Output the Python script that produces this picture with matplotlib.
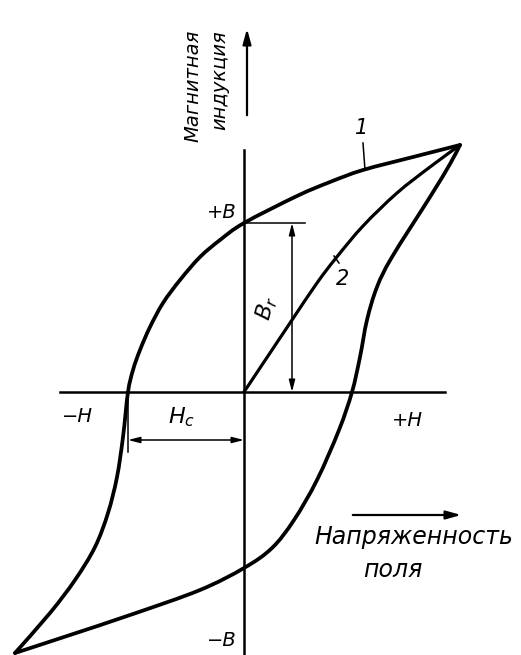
import matplotlib
matplotlib.use("Agg")
import matplotlib.pyplot as plt
from matplotlib.path import Path
from matplotlib.patches import PathPatch
import numpy as np

plt.rcParams['font.family'] = ['DejaVu Sans']
plt.rcParams['mathtext.fontset'] = 'dejavusans'

# нисходящая ветвь петли (кривая 1): H, B
desc_H = [2.16, 1.69, 1.19, 0.86, 0.53, 0.00, -0.24, -0.44, -0.64, -0.81, -0.94, -1.04,
          -1.11, -1.16, -1.21, -1.27, -1.36, -1.49, -1.69, -1.94, -2.29]
desc_B = [2.47, 2.35, 2.22, 2.10, 1.96, 1.69, 1.52, 1.35, 1.12, 0.89, 0.65, 0.42,
          0.22, 0.00, -0.45, -0.85, -1.21, -1.55, -1.88, -2.21, -2.61]

# восходящая ветвь петли
asc_H = [-2.29, -1.77, -1.11, -0.44, 0.00, 0.28, 0.50, 0.73, 0.95, 1.08, 1.16, 1.23,
         1.33, 1.48, 1.86, 2.06, 2.16]
asc_B = [-2.61, -2.44, -2.22, -1.98, -1.76, -1.56, -1.28, -0.88, -0.38, 0.00, 0.35, 0.72,
         1.05, 1.35, 1.95, 2.28, 2.47]

# начальная кривая намагничивания (кривая 2)
init_H = [0.00, 0.46, 0.73, 0.92, 1.19, 1.53, 1.86, 2.16]
init_B = [0.00, 0.69, 1.09, 1.34, 1.66, 1.99, 2.25, 2.47]

Br = 1.69      # остаточная индукция
Hc = -1.16     # коэрцитивная сила


def smooth_path(xs, ys):
    # кривая Безье через все точки (Catmull-Rom)
    p = np.column_stack([xs, ys])
    verts = [p[0]]
    codes = [Path.MOVETO]
    n = len(p)
    for i in range(n - 1):
        p0 = p[i - 1] if i > 0 else p[i]
        p3 = p[i + 2] if i + 2 < n else p[i + 1]
        c1 = p[i] + (p[i + 1] - p0) / 6
        c2 = p[i + 1] - (p3 - p[i]) / 6
        verts += [c1, c2, p[i + 1]]
        codes += [Path.CURVE4] * 3
    return Path(verts, codes)


fig = plt.figure(figsize=(5.21, 6.55), dpi=100)
ax = fig.add_axes([0, 0, 1, 1])
ax.set_xlim(-2.44, 2.77)
ax.set_ylim(-2.63, 3.92)
ax.axis('off')

# оси
ax.plot([0, 0], [-2.63, 2.42], color='black', lw=1.8)
ax.plot([-1.84, 2.01], [0, 0], color='black', lw=1.8)

# кривые
for xs, ys, w in [(desc_H, desc_B, 2.7), (asc_H, asc_B, 2.7), (init_H, init_B, 2.3)]:
    ax.add_patch(PathPatch(smooth_path(xs, ys), fill=False, edgecolor='black', lw=w,
                           joinstyle='round', capstyle='round'))

# стрелки подписей осей
arr = dict(arrowstyle='-|>,head_length=0.9,head_width=0.25', color='black', lw=1.6)
ax.annotate('', xy=(0.03, 3.66), xytext=(0.03, 2.74), arrowprops=arr)
ax.annotate('', xy=(2.20, -1.23), xytext=(1.06, -1.23), arrowprops=arr)

# размер Br
dim = dict(arrowstyle='<|-|>,head_length=0.7,head_width=0.18', color='black', lw=1.1,
           shrinkA=0, shrinkB=0)
ax.plot([0, 0.61], [Br, Br], color='black', lw=1.1)
ax.annotate('', xy=(0.48, Br), xytext=(0.48, 0), arrowprops=dim)

# размер Hc
ax.plot([Hc, Hc], [0, -0.60], color='black', lw=1.1)
ax.annotate('', xy=(Hc, -0.48), xytext=(0, -0.48), arrowprops=dim)

# выноски 1 и 2
ax.plot([1.19, 1.21], [2.49, 2.22], color='black', lw=1.1)
ax.plot([0.90, 0.95], [1.36, 1.29], color='black', lw=1.1)

txt = dict(style='italic', color='black', ha='center', va='center')
ax.text(1.18, 2.64, '1', fontsize=15, **txt)
ax.text(0.99, 1.13, '2', fontsize=15, **txt)
ax.text(-0.22, 1.80, '+B', fontsize=14, **txt)
ax.text(-0.22, -2.48, '−B', fontsize=14, **txt)
ax.text(-1.67, -0.25, '−H', fontsize=14, **txt)
ax.text(1.63, -0.28, '+H', fontsize=14, **txt)
ax.text(-0.62, -0.25, r'$\mathit{H_c}$', fontsize=16, **txt)
ax.text(0.23, 0.84, r'$\mathit{B_r}$', fontsize=16, rotation=75, **txt)
ax.text(-0.51, 3.06, 'Магнитная', fontsize=14, rotation=90, **txt)
ax.text(-0.24, 3.12, 'индукция', fontsize=14, rotation=90, **txt)
ax.text(1.70, -1.45, 'Напряженность', fontsize=17, **txt)
ax.text(1.49, -1.78, 'поля', fontsize=17, **txt)

fig.savefig('out.png', dpi=100)
